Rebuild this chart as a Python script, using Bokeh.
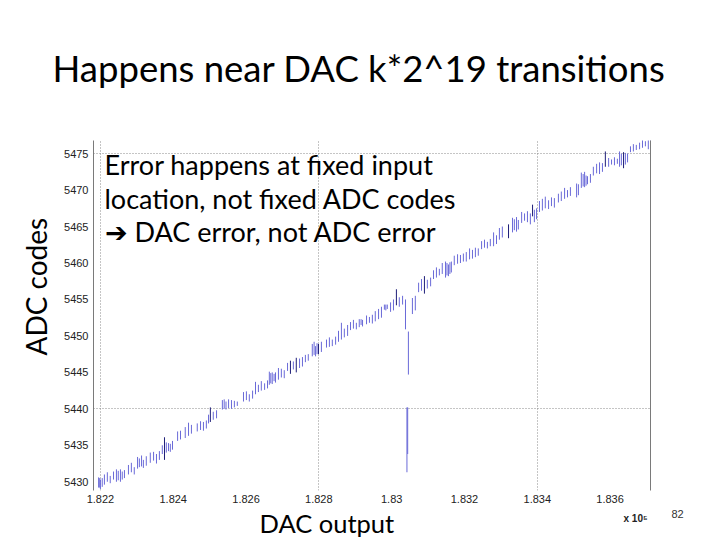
from bokeh.plotting import figure
from bokeh.models import Label, LinearAxis, FixedTicker, Range1d, Title
from bokeh.embed import file_html
from bokeh.resources import INLINE

# ---- data: ADC output code spread (min..max) observed at each DAC output value ----
dac_x = [182195, 182198, 182200, 182205, 182211, 182219, 182227, 182236,
         182244, 182249, 182255, 182260, 182266, 182277, 182285, 182293,
         182302, 182307, 182313, 182318, 182326, 182337, 182346, 182354, 182362,
         182370, 182381, 182387, 182392, 182398, 182412, 182420,
         182433, 182442, 182450, 182466, 182475, 182483, 182491,
         182497, 182510, 182519,
         182535, 182540, 182545, 182552, 182560, 182568, 182576,
         182593, 182601, 182609, 182618,
         182626, 182634, 182642, 182651, 182659,
         182664, 182668, 182672, 182677, 182681,
         182689, 182697, 182705,
         182714, 182730, 182747, 182755, 182763, 182771,
         182782, 182787, 182791, 182795, 182807,
         182821, 182829, 182837, 182846,
         182854, 182862, 182870, 182879,
         182887, 182895, 182903, 182911, 182916, 182920,
         182931, 182939, 182947,
         182955, 182964, 182972, 182980, 182984, 182988,
         182997, 183005, 183021, 183030,
         183038, 183046, 183042, 183044,
         183057, 183065,
         183074, 183082, 183098, 183107,
         183115, 183123, 183131, 183139,
         183148, 183152, 183156, 183160, 183164,
         183172, 183181, 183189, 183197,
         183205, 183214, 183222, 183230, 183238,
         183247, 183255, 183263, 183271,
         183280, 183288, 183296, 183304,
         183332, 183337, 183343, 183348,
         183357, 183365, 183373,
         183381, 183392, 183398,
         183406, 183414, 183422, 183431, 183439, 183447,
         183458, 183466, 183475, 183483, 183491,
         183508, 183513,
         183521, 183526, 183530, 183534, 183538, 183546,
         183554, 183563, 183571, 183579,
         183596, 183604, 183612, 183620,
         183626, 183631, 183642, 183648,
         183656, 183664, 183672,
         183681, 183689, 183697, 183705, 183711]
code_lo = [5429.2, 5429.2, 5429.0, 5429.3, 5429.6, 5430.0, 5429.8, 5430.3,
           5430.0, 5430.2, 5430.0, 5430.3, 5430.5, 5431.0, 5431.3, 5431.0,
           5431.8, 5432.0, 5432.1, 5431.9, 5432.2, 5432.6, 5432.9, 5432.5, 5433.0,
           5433.8, 5434.0, 5434.2, 5434.1, 5434.4, 5435.6, 5435.8,
           5436.0, 5436.3, 5436.6, 5436.9, 5437.1, 5437.0, 5437.3,
           5438.0, 5438.5, 5438.7,
           5439.9, 5440.0, 5439.9, 5440.1, 5440.0, 5440.2, 5440.4,
           5441.0, 5441.2, 5441.0, 5441.4,
           5442.0, 5442.3, 5442.5, 5442.6, 5442.8,
           5443.3, 5443.5, 5443.4, 5443.8, 5443.6,
           5444.0, 5444.3, 5444.2,
           5445.2, 5445.4, 5445.6, 5445.8, 5446.4, 5446.6,
           5447.2, 5447.4, 5447.2, 5447.5, 5447.8,
           5448.4, 5448.5, 5448.6, 5448.8,
           5449.2, 5449.5, 5449.8, 5450.0,
           5450.8, 5451.0, 5450.9, 5451.2, 5451.5, 5451.3,
           5451.6, 5451.8, 5451.7,
           5452.0, 5452.3, 5452.5, 5453.6, 5453.5, 5453.7,
           5453.3, 5453.5, 5454.0, 5454.3,
           5450.9, 5444.7, 5431.3, 5433.8,
           5453.0, 5453.5,
           5456.0, 5456.2, 5456.5, 5456.8,
           5457.8, 5458.0, 5458.3, 5458.5,
           5458.0, 5458.3, 5458.2, 5458.5, 5458.7,
           5459.7, 5459.9, 5460.0, 5460.2,
           5460.2, 5460.5, 5460.6, 5460.8, 5461.0,
           5461.9, 5462.1, 5462.0, 5462.3,
           5462.3, 5462.6, 5463.2, 5463.5,
           5464.2, 5464.5, 5464.3, 5464.6,
           5465.5, 5465.8, 5465.6,
           5465.3, 5465.6, 5466.0,
           5467.0, 5467.2, 5467.5, 5467.4, 5467.8, 5467.6,
           5468.3, 5468.5, 5468.8, 5469.0, 5469.2,
           5469.0, 5469.3,
           5470.3, 5470.5, 5470.4, 5470.6, 5470.8, 5471.0,
           5472.0, 5472.3, 5472.2, 5472.5,
           5473.2, 5473.5, 5473.4, 5473.6,
           5473.2, 5473.4, 5473.5, 5473.8,
           5475.2, 5475.3, 5475.5,
           5475.6, 5475.8, 5476.0, 5475.6, 5475.3]
code_hi = [5430.6, 5430.5, 5430.3, 5430.5, 5431.0, 5431.3, 5430.8, 5431.4,
           5431.7, 5431.5, 5431.7, 5431.4, 5431.6, 5432.3, 5432.6, 5432.0,
           5433.4, 5433.2, 5433.6, 5433.0, 5433.5, 5434.0, 5434.1, 5433.8, 5434.2,
           5435.0, 5435.4, 5435.3, 5435.2, 5435.6, 5436.9, 5437.0,
           5437.5, 5438.1, 5437.8, 5438.0, 5438.3, 5438.2, 5438.4,
           5439.2, 5439.6, 5439.8,
           5441.2, 5441.3, 5441.0, 5441.3, 5441.2, 5441.1, 5441.0,
           5442.3, 5442.4, 5442.0, 5442.5,
           5443.7, 5443.3, 5443.8, 5443.5, 5443.9,
           5445.1, 5444.9, 5445.0, 5444.8, 5445.0,
           5445.6, 5445.5, 5445.3,
           5446.3, 5446.5, 5446.9, 5447.1, 5447.4, 5447.5,
           5448.9, 5449.2, 5448.6, 5449.0, 5449.2,
           5449.5, 5449.8, 5449.5, 5449.9,
           5450.7, 5451.8, 5451.0, 5451.5,
           5451.9, 5452.2, 5451.8, 5452.3, 5452.3, 5452.2,
           5452.8, 5452.6, 5452.9,
           5453.4, 5453.7, 5454.0, 5454.3, 5454.3, 5454.3,
           5454.6, 5455.0, 5455.3, 5455.5,
           5455.0, 5450.6, 5440.2, 5440.2,
           5455.2, 5455.5,
           5457.3, 5457.8, 5457.7, 5458.0,
           5459.0, 5459.4, 5459.2, 5460.0,
           5460.2, 5460.0, 5459.8, 5460.1, 5460.2,
           5461.0, 5461.2, 5461.1, 5461.3,
           5461.5, 5462.0, 5461.8, 5462.1, 5462.0,
           5463.0, 5463.2, 5462.9, 5463.3,
           5464.2, 5463.8, 5464.8, 5465.0,
           5466.2, 5466.0, 5466.3, 5465.9,
           5467.0, 5466.8, 5467.1,
           5466.8, 5467.3, 5467.5,
           5468.5, 5468.8, 5469.1, 5468.6, 5469.0, 5468.9,
           5469.5, 5469.8, 5470.3, 5470.0, 5470.4,
           5470.9, 5470.8,
           5472.4, 5472.2, 5472.5, 5472.0, 5471.9, 5472.2,
           5473.2, 5473.6, 5473.8, 5473.7,
           5474.4, 5474.2, 5474.5, 5474.3,
           5475.3, 5475.0, 5475.1, 5475.0,
           5476.0, 5476.3, 5476.2,
           5476.5, 5476.9, 5476.7, 5476.9, 5476.9]

# darker (densely overlapping) strokes
dark_x = [182376, 182502, 182722, 182738, 182799, 183013, 183090, 183321, 183387, 183587, 183637]
dark_lo = [5433.0, 5438.2, 5444.8, 5445.0, 5447.5, 5454.2, 5455.8, 5463.4, 5466.4, 5473.2, 5473.0]
dark_hi = [5436.1, 5440.2, 5446.6, 5447.0, 5448.9, 5456.4, 5458.2, 5465.3, 5468.0, 5475.3, 5475.2]

x_ticks = [182200, 182400, 182600, 182800, 183000, 183200, 183400, 183600]
x_tick_labels = ["1.822", "1.824", "1.826", "1.828", "1.83", "1.832", "1.834", "1.836"]
y_ticks = [5430, 5435, 5440, 5445, 5450, 5455, 5460, 5465, 5470, 5475]
x_grid = [182200, 182800, 183400]
y_grid = [5440, 5475]

title_text = "Happens near DAC k*2^19 transitions"
note_lines = ["Error happens at fixed input",
              "location, not fixed ADC codes",
              "\u2794 DAC error, not ADC error"]
y_label = "ADC codes"
x_label = "DAC output"
x_scale_note = "x 10\u2075"
page_no = "82"

W, H = 720, 540
p = figure(width=W, height=H, output_backend="svg", toolbar_location=None,
           x_range=Range1d(182181, 183711), y_range=Range1d(5428.8, 5476.8),
           min_border_left=93, min_border_right=70, min_border_top=140,
           min_border_bottom=50, title=None)
p.background_fill_color = "white"
p.border_fill_color = "white"
p.outline_line_color = None

# grid
p.xgrid.ticker = FixedTicker(ticks=x_grid)
p.ygrid.ticker = FixedTicker(ticks=y_grid)
for g in (p.xgrid, p.ygrid):
    g.grid_line_color = "#8a8a8a"
    g.grid_line_dash = "1 2"
    g.grid_line_width = 1

# axes
xa = p.xaxis[0]
xa.ticker = FixedTicker(ticks=x_ticks)
xa.major_label_overrides = {t: l for t, l in zip(x_ticks, x_tick_labels)}
xa.axis_line_color = None
xa.major_tick_line_color = None
xa.minor_tick_line_color = None
xa.major_tick_out = 0
xa.major_tick_in = 0
xa.minor_tick_out = 0
xa.major_label_standoff = 4
xa.major_label_text_font = "Liberation Sans"
xa.major_label_text_font_size = "11px"
xa.major_label_text_color = "#222222"

ya = p.yaxis[0]
ya.ticker = FixedTicker(ticks=y_ticks)
ya.axis_line_color = "#7a7a7a"
ya.major_tick_line_color = None
ya.minor_tick_line_color = None
ya.major_tick_out = 0
ya.major_tick_in = 0
ya.minor_tick_out = 0
ya.major_label_standoff = 5
ya.major_label_text_font = "Liberation Sans"
ya.major_label_text_font_size = "11px"
ya.major_label_text_color = "#222222"

ra = LinearAxis(ticker=FixedTicker(ticks=[]), axis_line_color="#7a7a7a",
                major_tick_line_color=None, minor_tick_line_color=None,
                major_tick_out=0, major_tick_in=0, major_label_standoff=0,
                major_label_text_color=None)
p.add_layout(ra, "right")

# data strokes
p.segment(x0=dac_x, y0=code_lo, x1=dac_x, y1=code_hi, line_color="#6a6ad8", line_width=1)
p.segment(x0=dark_x, y0=dark_lo, x1=dark_x, y1=dark_hi, line_color="#1e1e78", line_width=1)

# slide title (a blank spacer slot lifts it above the frame)
p.add_layout(Title(text=" ", text_font_size="1px", standoff=48), "above")
p.add_layout(Title(text=title_text, align="left", offset=-41, standoff=0,
                   text_font="Lato", text_font_size="36.5px", text_font_style="normal",
                   text_color="black"), "above")
p.add_layout(Title(text=y_label, align="left", offset=135, standoff=18,
                   text_font="Lato", text_font_size="28px", text_font_style="normal",
                   text_color="black"), "left")
p.add_layout(Title(text=x_label, align="left", offset=166, standoff=0,
                   text_font="Lato", text_font_size="25.5px", text_font_style="normal",
                   text_color="black"), "below")

# note inside the plot frame (screen units from frame bottom-left)
FL, FB = 93.0, 490.0
for i, line in enumerate(note_lines):
    p.add_layout(Label(x=104 - FL, y=FB - (164 + i * 33.5), x_units="screen", y_units="screen",
                       text=line, text_font="Lato", text_font_size="27px",
                       text_baseline="middle", text_color="black"))

# small texts at the lower right (placed in the right-hand side panel)
p.add_layout(Label(x=-27, y=-28, x_units="screen", y_units="screen", text=x_scale_note,
                   text_font="Liberation Sans", text_font_size="10px", text_font_style="bold",
                   text_baseline="middle", text_color="#222222"), "right")
p.add_layout(Label(x=-3, y=-23, x_units="screen", y_units="screen", text=page_no,
                   text_font="Liberation Sans", text_font_size="11px",
                   text_baseline="middle", text_color="#333333"), "right")

open("out.html", "w").write(file_html(p, INLINE))
